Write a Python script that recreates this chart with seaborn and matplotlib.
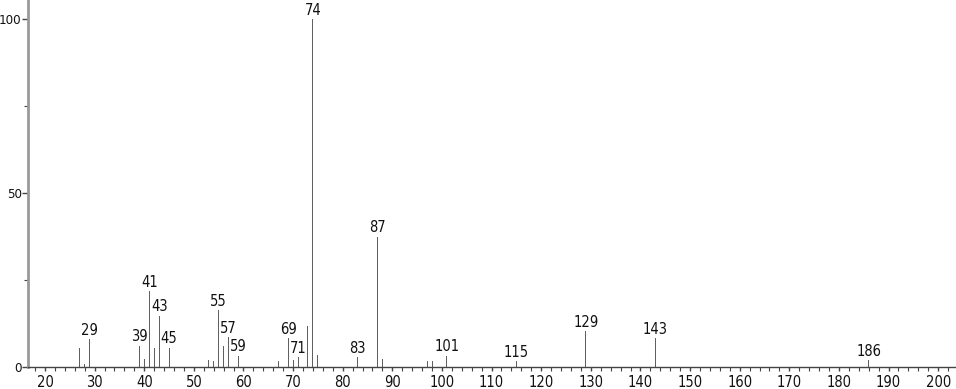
import matplotlib
matplotlib.use("Agg")
import matplotlib.pyplot as plt
import seaborn as sns
import pandas as pd
from matplotlib.ticker import MultipleLocator

# m/z values and relative intensities
mz = [27, 28, 29, 39, 40, 41, 42, 43, 45, 53, 54, 55, 56, 57, 59, 67, 69, 70, 71,
      73, 74, 75, 83, 87, 88, 97, 98, 101, 115, 129, 143, 186]
intensity = [5.5, 0.9, 8.0, 6.1, 2.3, 21.8, 5.6, 14.7, 5.5, 2.0, 1.7, 16.4, 6.1, 8.6,
             3.2, 1.8, 8.2, 2.0, 2.9, 11.9, 100.0, 3.4, 2.9, 37.4, 2.3, 1.7, 1.7,
             3.2, 1.7, 10.3, 8.2, 1.9]
labeled = [29, 39, 41, 43, 45, 55, 57, 59, 69, 71, 74, 83, 87, 101, 115, 129, 143, 186]

x_ticks = list(range(20, 201, 10))
y_ticks = [0, 50, 100]

df = pd.DataFrame({"mz": mz, "intensity": intensity})

sns.set_style("ticks")
plt.rcParams["font.family"] = ["DejaVu Sans"]
plt.rcParams["font.stretch"] = "condensed"

fig = plt.figure(figsize=(9.56, 3.89), dpi=100)
ax = fig.add_axes([28 / 956, 22 / 389, 927 / 956, 367 / 389])

sns.barplot(data=df, x="mz", y="intensity", native_scale=True, width=0.2,
            color="#606060", linewidth=0, errorbar=None, ax=ax, saturation=1)

for m, v in zip(mz, intensity):
    if m in labeled:
        ax.annotate(str(m), xy=(m, v), xytext=(0, 1), textcoords="offset points",
                    ha="center", va="bottom", fontsize=10.5, color="#111111",
                    fontstretch="condensed")

ax.set_xlim(16.57, 203.4)
ax.set_ylim(0, 105.46)
ax.set_xticks(x_ticks)
ax.set_xticklabels([str(t) for t in x_ticks], fontstretch="condensed")
ax.xaxis.set_minor_locator(MultipleLocator(2))
ax.set_yticks(y_ticks)
ax.set_yticklabels([str(t) for t in y_ticks], fontstretch="condensed")
ax.yaxis.set_minor_locator(MultipleLocator(25))
ax.set_xlabel("")
ax.set_ylabel("")

for s in ["top", "right"]:
    ax.spines[s].set_visible(False)
ax.spines["left"].set_color("#999999")
ax.spines["left"].set_linewidth(2)
ax.spines["bottom"].set_color("#444444")
ax.spines["bottom"].set_linewidth(1)

ax.tick_params(axis="x", which="major", length=3, width=1, color="#444444",
               labelsize=10.5, pad=2.5, labelcolor="#111111")
ax.tick_params(axis="x", which="minor", length=3, width=0.8, color="#444444")
ax.tick_params(axis="y", which="major", length=4, width=1, color="#444444",
               labelsize=9.5, pad=0.5, labelcolor="#111111")
ax.tick_params(axis="y", which="minor", length=3, width=0.8, color="#444444")

fig.savefig("out.png", dpi=100)
